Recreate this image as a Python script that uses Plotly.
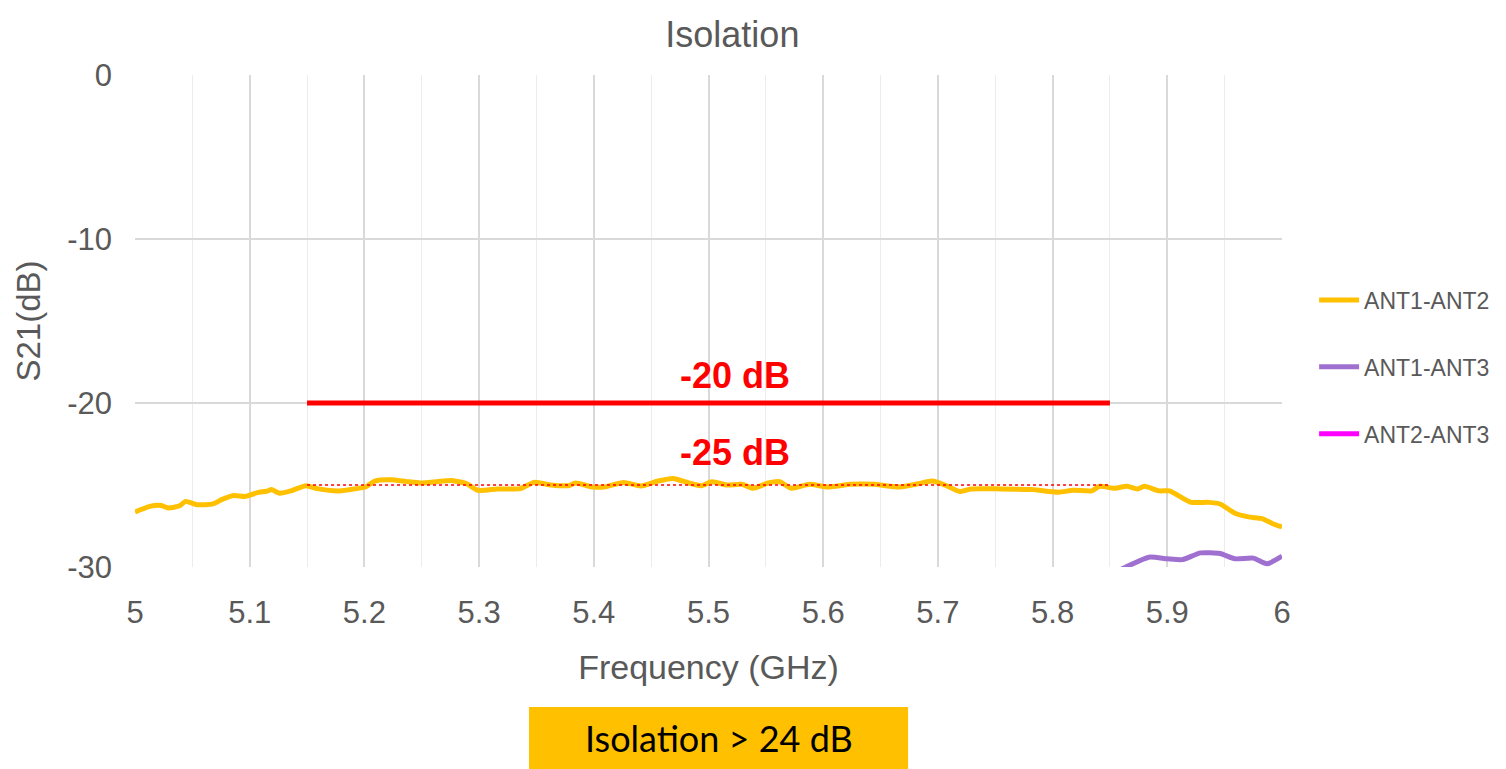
from plotly import graph_objects as go

freq_12 = [5.000, 5.013, 5.023, 5.029, 5.039, 5.044, 5.054, 5.068, 5.076, 5.086,
           5.096, 5.106, 5.116, 5.119, 5.126, 5.136, 5.149, 5.159, 5.178, 5.193,
           5.201, 5.209, 5.223, 5.236, 5.249, 5.263, 5.276, 5.289, 5.299, 5.316,
           5.336, 5.348, 5.363, 5.378, 5.384, 5.399, 5.409, 5.426, 5.441, 5.456,
           5.469, 5.483, 5.494, 5.503, 5.516, 5.529, 5.539, 5.552, 5.562, 5.572,
           5.588, 5.604, 5.624, 5.644, 5.667, 5.683, 5.695, 5.706, 5.719, 5.729,
           5.755, 5.782, 5.805, 5.818, 5.834, 5.841, 5.854, 5.865, 5.874, 5.880,
           5.893, 5.902, 5.920, 5.936, 5.946, 5.959, 5.972, 5.982, 5.992, 6.000]
s21_12 = [-26.65, -26.30, -26.25, -26.40, -26.27, -26.00, -26.20, -26.15, -25.88, -25.64,
          -25.70, -25.48, -25.36, -25.28, -25.50, -25.36, -25.04, -25.22, -25.36, -25.22,
          -25.12, -24.76, -24.68, -24.78, -24.88, -24.80, -24.72, -24.92, -25.32, -25.24,
          -25.22, -24.84, -25.00, -25.04, -24.88, -25.12, -25.12, -24.84, -25.06, -24.76,
          -24.60, -24.88, -25.04, -24.80, -25.00, -24.96, -25.20, -24.88, -24.80, -25.20,
          -24.96, -25.12, -24.96, -24.96, -25.12, -24.92, -24.76, -25.00, -25.40, -25.24,
          -25.24, -25.28, -25.44, -25.32, -25.36, -25.08, -25.20, -25.08, -25.24, -25.08,
          -25.36, -25.36, -26.04, -26.06, -26.16, -26.72, -26.96, -27.04, -27.36, -27.56]

freq_13 = [5.80, 5.83, 5.855, 5.864, 5.884, 5.900, 5.913, 5.929, 5.946, 5.959, 5.975, 5.987, 6.000]
s21_13 = [-31.5, -30.8, -30.3, -30.0, -29.4, -29.5, -29.55, -29.14, -29.18, -29.5, -29.46, -29.8, -29.34]

freq_23 = [5.0, 5.25, 5.5, 5.75, 6.0]
s21_23 = [-36.0, -35.5, -35.0, -34.5, -34.0]

# spec lines
spec_freq = [5.15, 5.85]
spec_20 = [-20, -20]
spec_25 = [-25, -25]

y_ticks = [-30, -20, -10, 0]
y_labels = ["-30", "-20", "-10", "0"]

GRAY = "#595959"
FONT = "Liberation Sans"

fig = go.Figure()
fig.add_trace(go.Scatter(x=freq_12, y=s21_12, mode="lines", name="ANT1-ANT2",
                         line=dict(color="#FFC000", width=5, shape="spline", smoothing=0.6),
                         legendgroup="a"))
fig.add_trace(go.Scatter(x=freq_13, y=s21_13, mode="lines", name="ANT1-ANT3",
                         line=dict(color="#A070D0", width=5, shape="spline", smoothing=0.6),
                         legendgroup="b"))
fig.add_trace(go.Scatter(x=freq_23, y=s21_23, mode="lines", name="ANT2-ANT3",
                         line=dict(color="#FF00FF", width=5), legendgroup="c"))
fig.add_trace(go.Scatter(x=spec_freq, y=spec_20, mode="lines", showlegend=False,
                         line=dict(color="#FF0000", width=5)))
fig.add_trace(go.Scatter(x=spec_freq, y=spec_25, mode="lines", showlegend=False,
                         line=dict(color="#FF0000", width=1.5, dash="dot")))

for txt, yv in [("-20 dB", -18.3), ("-25 dB", -23.0)]:
    fig.add_annotation(x=5.523, y=yv, text="<b>" + txt + "</b>", showarrow=False,
                       font=dict(family=FONT, size=36, color="#FF0000"))

fig.add_shape(type="rect", xref="paper", yref="paper", x0=0.3435, x1=0.674,
              y0=-0.42, y1=-0.2846, fillcolor="#FFC000", line=dict(width=0))
fig.add_annotation(xref="paper", yref="paper", x=0.5088, y=-0.3476, yanchor="middle",
                   showarrow=False, text="Isolation > 24 dB",
                   font=dict(family="Lato", size=36, color="#000000"))

fig.update_layout(
    width=1506, height=769,
    margin=dict(l=127, r=232, t=67, b=210),
    paper_bgcolor="white", plot_bgcolor="white",
    font=dict(family=FONT, color=GRAY),
    title=dict(text="Isolation", x=0.481, xanchor="center", y=0.982, yanchor="top",
               pad=dict(t=0), font=dict(size=36, color=GRAY)),
    legend=dict(x=1.028, y=0.4065, xanchor="left", yanchor="middle",
                font=dict(size=23, color=GRAY), tracegroupgap=34, itemwidth=40),
    xaxis=dict(range=[5, 6], dtick=0.1, tick0=5, showgrid=True, gridcolor="#d9d9d9",
               gridwidth=1.5, zeroline=False, showline=False, ticks="",
               tickfont=dict(size=31, color=GRAY), ticklabelstandoff=24,
               minor=dict(dtick=0.05, showgrid=True, gridcolor="#ececec", gridwidth=1),
               title=dict(text="Frequency (GHz)", font=dict(size=34, color=GRAY), standoff=26)),
    yaxis=dict(range=[-30, 0], tickvals=y_ticks, ticktext=y_labels, showgrid=True,
               gridcolor="#d9d9d9", gridwidth=1.5, zeroline=False, showline=False, ticks="",
               tickfont=dict(size=31, color=GRAY), ticklabelstandoff=22,
               title=dict(text="S21(dB)", font=dict(size=33, color=GRAY), standoff=16)),
)

fig.write_html("out.html")
